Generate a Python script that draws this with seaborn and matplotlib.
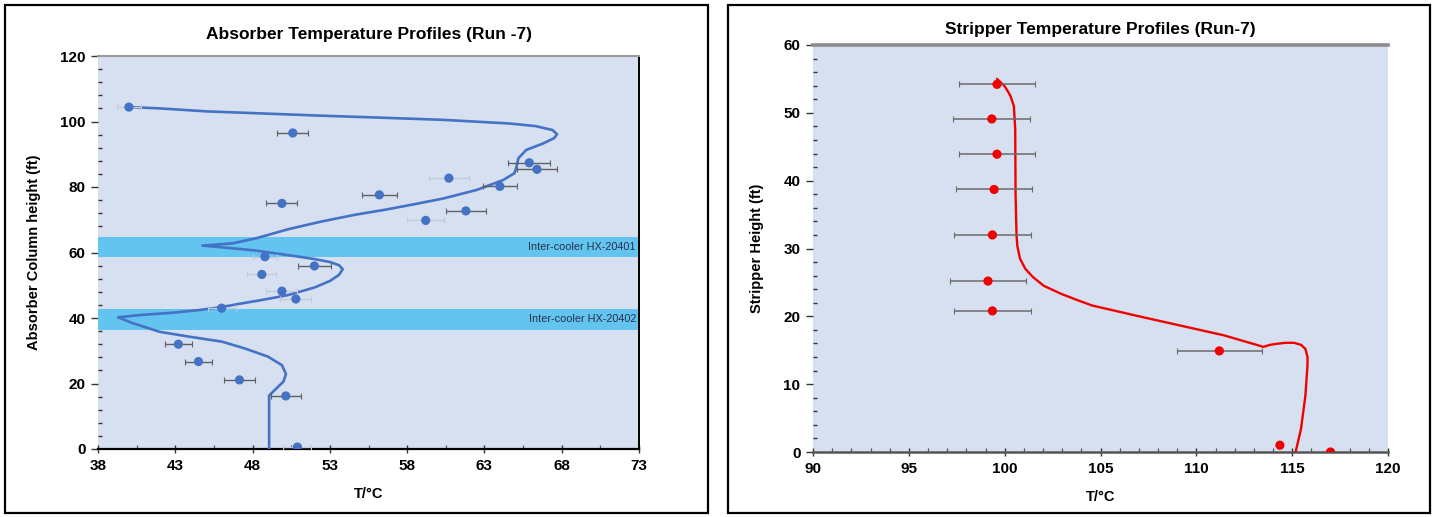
import numpy as np
import pandas as pd
import matplotlib
matplotlib.use("Agg")
import matplotlib.pyplot as plt
import seaborn as sns
from matplotlib.ticker import MultipleLocator, FixedLocator
from matplotlib.patches import Rectangle

# ---------------- Absorber (left) ----------------
abs_T = [40.0, 50.6, 65.9, 66.4, 60.7, 64.0, 56.2, 49.9, 61.8, 59.2,
         48.8, 52.0, 48.6, 49.9, 50.8, 46.0, 43.2, 44.5, 47.15, 50.15, 50.9]
abs_h = [104.4, 96.5, 87.4, 85.4, 82.7, 80.2, 77.6, 75.0, 72.7, 69.8,
         58.7, 55.9, 53.3, 48.2, 45.8, 43.0, 32.0, 26.7, 21.1, 16.2, 0.6]
abs_err = [0.8, 1.0, 1.35, 1.3, 1.3, 1.1, 1.13, 1.0, 1.3, 1.2,
           0.8, 1.07, 0.93, 1.0, 1.0, 0.9, 0.88, 0.89, 0.98, 0.98, 0.9]
abs_err_faint = [True, False, False, False, True, False, False, False, False, True,
                 True, False, True, True, True, True, False, False, False, False, True]

abs_sim_T = [49.07, 49.07, 49.5, 50.0, 50.16, 49.9, 49.0, 47.5, 46.0, 43.9, 41.97, 40.2, 39.3,
             40.7, 42.8, 44.5, 45.95, 47.1, 48.6, 50.3, 52.0, 53.0, 53.6, 53.83, 53.6, 53.0,
             52.0, 50.3, 48.2, 46.0, 44.75, 46.7, 48.2, 50.3, 52.4, 54.6, 56.5, 58.2, 60.35,
             62.5, 64.2, 64.94, 65.05, 65.2, 65.7, 66.8, 67.5, 67.7, 67.4, 66.3, 64.6, 60.35,
             56.1, 52.3, 45.0, 42.0, 40.1]
abs_sim_h = [0.0, 16.3, 18.3, 20.6, 22.9, 25.6, 28.2, 30.7, 32.8, 34.3, 35.8, 38.5, 40.2,
             40.9, 41.6, 42.4, 43.3, 44.3, 45.5, 47.0, 49.3, 51.3, 53.2, 54.9, 56.1, 57.1,
             58.0, 59.2, 60.6, 61.6, 62.1, 62.8, 64.3, 67.1, 69.4, 71.5, 73.0, 74.5, 76.5,
             79.1, 82.1, 84.2, 85.7, 88.8, 91.3, 93.3, 94.9, 96.1, 97.4, 98.6, 99.4, 100.5,
             101.2, 101.8, 103.1, 104.0, 104.4]

band_low = [58.5, 36.3]
band_high = [64.6, 42.8]
band_labels = ["Inter-cooler HX-20401", "Inter-cooler HX-20402"]

abs_xticks = [38, 43, 48, 53, 58, 63, 68, 73]

# ---------------- Stripper (right) ----------------
str_T = [99.6, 99.33, 99.6, 99.45, 99.36, 99.13, 99.36, 111.2, 114.36, 117.0]
str_h = [54.2, 49.1, 43.9, 38.7, 32.0, 25.2, 20.8, 14.9, 1.0, 0.0]
str_err = [2.0, 2.0, 2.0, 2.0, 2.0, 2.0, 2.0, 2.2, 0.0, 0.0]

str_sim_T = [99.6, 99.98, 100.16, 100.3, 100.48, 100.55, 100.57, 100.62, 100.66, 100.8,
             101.08, 101.47, 102.04, 102.96, 103.88, 104.56, 106.86, 109.15, 111.44, 113.5,
             113.85, 114.2, 114.66, 115.1, 115.46, 115.69, 115.8, 115.8, 115.69, 115.46, 115.18]
str_sim_h = [55.0, 54.0, 53.2, 52.5, 51.0, 47.6, 37.8, 31.9, 30.4, 28.5,
             27.0, 25.8, 24.5, 23.3, 22.3, 21.6, 20.1, 18.65, 17.2, 15.5,
             15.8, 15.95, 16.1, 16.1, 15.8, 15.2, 14.0, 12.8, 8.3, 3.4, 0.0]

# ---------------- styling ----------------
sns.set_theme(style="white")
plt.rcParams['font.family'] = ['Liberation Sans', 'DejaVu Sans']
plt.rcParams['axes.unicode_minus'] = False
plt.rcParams['text.color'] = 'black'
plt.rcParams['axes.labelcolor'] = 'black'
plt.rcParams['xtick.color'] = 'black'
plt.rcParams['ytick.color'] = 'black'

BG = '#d7e0f1'
BAND = '#63c4ef'
BLUE = '#4472c4'
RED = '#f00000'

W, H = 1435, 517
fig = plt.figure(figsize=(W / 100, H / 100), dpi=100)

def fx(px):
    return px / W

def fy(py):
    return 1 - py / H

# panel frames
for (x0, x1) in [(5, 708), (728, 1430)]:
    fig.patches.append(Rectangle((fx(x0), fy(513)), fx(x1) - fx(x0), fy(5) - fy(513),
                                 transform=fig.transFigure, fill=False,
                                 edgecolor='black', linewidth=1.6, zorder=0))

# ---------- left axes ----------
axL = fig.add_axes([fx(98), fy(449), fx(639) - fx(98), fy(56) - fy(449)])
axL.set_facecolor(BG)
for lo, hi, lab in zip(band_low, band_high, band_labels):
    axL.axhspan(lo, hi, color=BAND, zorder=1, lw=0)
    axL.text(72.8, (lo + hi) / 2, lab, ha='right', va='center', fontsize=7.8,
             color='#26314a', zorder=2)

abs_sim = pd.DataFrame({'T': abs_sim_T, 'h': abs_sim_h})
sns.lineplot(data=abs_sim, x='T', y='h', sort=False, estimator=None, ax=axL,
             color=BLUE, linewidth=1.9, zorder=3)

abs_df = pd.DataFrame({'T': abs_T, 'h': abs_h, 'err': abs_err, 'faint': abs_err_faint})
for faint, sub in abs_df.groupby('faint'):
    axL.errorbar(sub['T'], sub['h'], xerr=sub['err'], fmt='none',
                 ecolor='#c4cad8' if faint else '#606060', elinewidth=1.0,
                 capsize=2.0, capthick=0.8, zorder=4)
sns.scatterplot(data=abs_df, x='T', y='h', ax=axL, color=BLUE, s=44,
                edgecolor='none', zorder=5)

axL.set_xlim(38, 73)
axL.set_ylim(0, 120)
axL.xaxis.set_major_locator(FixedLocator(abs_xticks))
axL.xaxis.set_minor_locator(MultipleLocator(2.5, offset=0.5))
axL.yaxis.set_major_locator(MultipleLocator(20))
axL.yaxis.set_minor_locator(MultipleLocator(4))
axL.set_title('Absorber Temperature Profiles (Run -7)', fontsize=12.5,
              fontweight='bold', pad=12)
axL.set_xlabel('T/°C', fontsize=10.5, fontweight='bold', labelpad=10)
axL.set_ylabel('Absorber Column height (ft)', fontsize=10.5, fontweight='bold',
               labelpad=14)
axL.spines['left'].set_visible(False)
axL.spines['top'].set_color('#9a9a9a')
axL.spines['top'].set_linewidth(1.5)
axL.spines['right'].set_color('black')
axL.spines['right'].set_linewidth(1.4)
axL.spines['bottom'].set_color('black')
axL.spines['bottom'].set_linewidth(1.6)

# ---------- right axes ----------
axR = fig.add_axes([fx(813), fy(452), fx(1388) - fx(813), fy(45) - fy(452)])
axR.set_facecolor(BG)

str_sim = pd.DataFrame({'T': str_sim_T, 'h': str_sim_h})
sns.lineplot(data=str_sim, x='T', y='h', sort=False, estimator=None, ax=axR,
             color=RED, linewidth=1.7, zorder=3)

str_df = pd.DataFrame({'T': str_T, 'h': str_h, 'err': str_err})
eb = str_df[str_df['err'] > 0]
axR.errorbar(eb['T'], eb['h'], xerr=eb['err'], fmt='none', ecolor='#6a6a6a',
             elinewidth=1.1, capsize=2.0, capthick=0.8, zorder=4)
sns.scatterplot(data=str_df, x='T', y='h', ax=axR, color=RED, s=44,
                edgecolor='none', zorder=5)

axR.set_xlim(90, 120)
axR.set_ylim(0, 60)
axR.xaxis.set_major_locator(MultipleLocator(5))
axR.xaxis.set_minor_locator(MultipleLocator(1))
axR.yaxis.set_major_locator(MultipleLocator(10))
axR.yaxis.set_minor_locator(MultipleLocator(2))
axR.set_title('Stripper Temperature Profiles (Run-7)', fontsize=12.5,
              fontweight='bold', pad=8)
axR.set_xlabel('T/°C', fontsize=10.5, fontweight='bold', labelpad=10)
axR.set_ylabel('Stripper Height (ft)', fontsize=10.5, fontweight='bold',
               labelpad=14)
axR.spines['left'].set_visible(False)
axR.spines['right'].set_visible(False)
axR.spines['top'].set_color('#8c8c8c')
axR.spines['top'].set_linewidth(2.6)
axR.spines['bottom'].set_color('#555555')
axR.spines['bottom'].set_linewidth(1.8)

for ax in (axL, axR):
    ax.tick_params(axis='both', which='major', labelsize=11, length=5,
                   width=1.0, color='#333333', pad=4, labelcolor='black')
    ax.tick_params(axis='y', which='major', direction='out', left=True)
    ax.tick_params(axis='y', which='minor', direction='in', left=True,
                   length=3, width=1.0, color='#333333')
    ax.tick_params(axis='x', which='major', direction='inout', bottom=True,
                   length=6)
    ax.tick_params(axis='x', which='minor', direction='in', bottom=True,
                   length=3, width=0.9, color='#555555')
    for lab in ax.get_xticklabels() + ax.get_yticklabels():
        lab.set_fontweight('bold')
    ax.grid(False)

fig.savefig('out.png', dpi=100)
